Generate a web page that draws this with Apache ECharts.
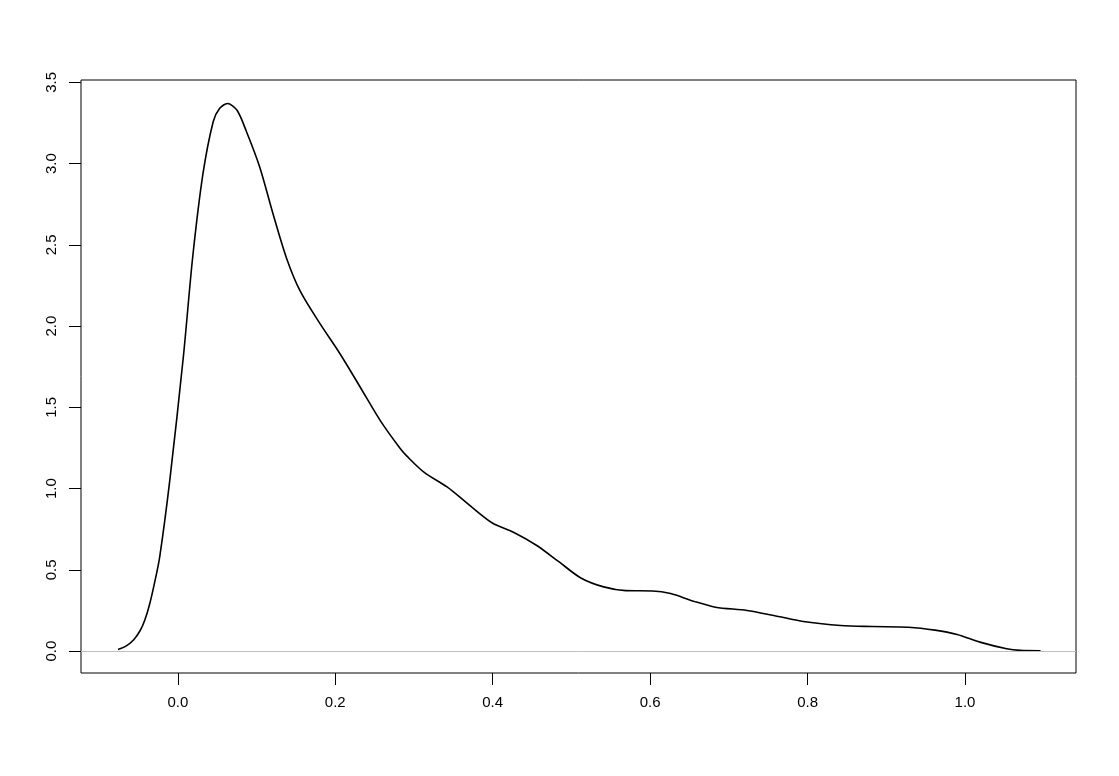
<!DOCTYPE html>
<html>
<head>
<meta charset="utf-8">
<script src="https://cdn.jsdelivr.net/npm/echarts@6/dist/echarts.min.js"></script>
<style>
  html, body { margin: 0; padding: 0; background: #fff; }
  #chart { width: 1119px; height: 776px; }
</style>
</head>
<body>
<div id="chart"></div>
<script>
// density curve
const densX = [-0.076, -0.066, -0.056, -0.048, -0.042, -0.036, -0.030, -0.023, -0.010, 0.007, 0.019, 0.032,
  0.045, 0.053, 0.063, 0.075, 0.087, 0.104, 0.121, 0.138, 0.155, 0.180, 0.206, 0.231, 0.257,
  0.282, 0.291, 0.313, 0.342, 0.370, 0.399, 0.427, 0.456, 0.484, 0.512, 0.541, 0.569, 0.603, 0.626, 0.655,
  0.683, 0.723, 0.757, 0.797, 0.842, 0.882, 0.928, 0.962, 0.990, 1.019, 1.053, 1.070, 1.096]
const densY = [0.01, 0.03, 0.07, 0.125, 0.19, 0.285, 0.41, 0.58, 1.06, 1.81, 2.43, 2.94,
  3.26, 3.34, 3.37, 3.33, 3.20, 2.98, 2.69, 2.42, 2.22, 2.02, 1.83, 1.63, 1.42,
  1.25, 1.20, 1.10, 1.01, 0.90, 0.79, 0.73, 0.65, 0.55, 0.45, 0.395, 0.372, 0.37, 0.354, 0.307,
  0.27, 0.25, 0.219, 0.18, 0.157, 0.151, 0.147, 0.129, 0.102, 0.055, 0.014, 0.004, 0.002]
const xTicks = [0, 0.2, 0.4, 0.6, 0.8, 1.0]
const yTicks = [0, 0.5, 1.0, 1.5, 2.0, 2.5, 3.0, 3.5]

const chart = echarts.init(document.getElementById('chart'))
const points = densX.map((x, i) => [x, densY[i]])
const labelFont = { color: '#000', fontSize: 15, fontFamily: 'Liberation Sans, Arial, sans-serif' }

chart.setOption({
  animation: false,
  backgroundColor: '#fff',
  grid: {
    left: 81, right: 43, top: 80, bottom: 103,
    show: true, borderColor: '#000', borderWidth: 1, backgroundColor: 'transparent'
  },
  xAxis: {
    type: 'value',
    min: -0.123,
    max: 1.141,
    axisLine: { show: false, onZero: false },
    splitLine: { show: false },
    axisTick: {
      show: true, inside: false, length: 12,
      customValues: xTicks,
      lineStyle: { color: '#000', width: 1 }
    },
    axisLabel: Object.assign({
      customValues: xTicks,
      margin: 22,
      formatter: v => v.toFixed(1)
    }, labelFont)
  },
  yAxis: {
    type: 'value',
    min: -0.135,
    max: 3.515,
    axisLine: { show: false, onZero: false },
    splitLine: { show: false },
    axisTick: {
      show: true, inside: false, length: 12,
      customValues: yTicks,
      lineStyle: { color: '#000', width: 1 }
    },
    axisLabel: Object.assign({
      customValues: yTicks,
      margin: 22,
      rotate: 90,
      formatter: v => v.toFixed(1)
    }, labelFont)
  },
  series: [{
    type: 'line',
    data: points,
    smooth: 0.3,
    showSymbol: false,
    lineStyle: { color: '#000', width: 1.6 },
    markLine: {
      silent: true,
      symbol: ['none', 'none'],
      label: { show: false },
      lineStyle: { color: '#bebebe', type: 'solid', width: 1 },
      data: [{ yAxis: 0 }]
    },
    z: 3
  }]
})
</script>
</body>
</html>
